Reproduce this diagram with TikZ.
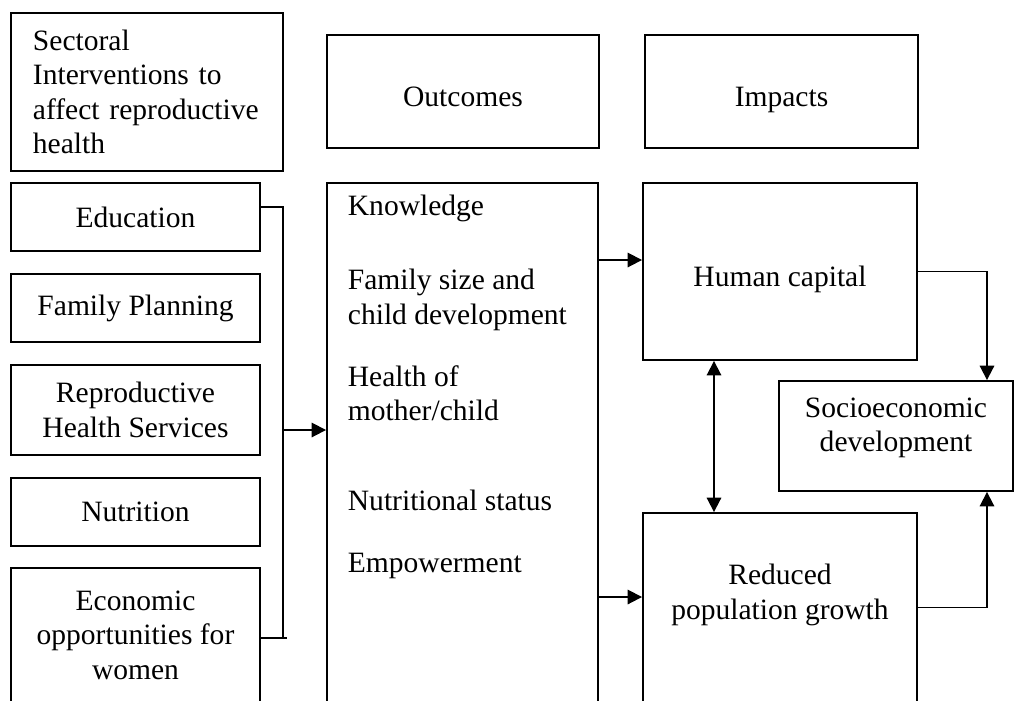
\documentclass[tikz,border=0pt]{standalone}
\usepackage{fontspec}
\setmainfont{Liberation Serif}
\usetikzlibrary{arrows.meta}
\begin{document}
\begin{tikzpicture}[x=0.025cm,y=-0.025cm,line width=1.3pt,
  box/.style={draw,inner sep=0pt,align=center},
  lbl/.style={anchor=west,inner sep=0pt,align=left},
  >={Triangle[length=0.36cm,width=0.36cm]}]
\fontsize{21}{24.5}\selectfont
\useasboundingbox (0,0) rectangle (1015,700);

% column heads
\node[box,minimum width=6.8cm,minimum height=3.95cm,text width=5.7cm,align=left] (sect) at (147,92) {Sectoral\\Interventions to\\affect reproductive\\health};
\node[box,minimum width=6.8cm,minimum height=2.825cm,text height=1.2em,text depth=0.2em] (outc) at (463,91.5) {Outcomes};
\node[box,minimum width=6.825cm,minimum height=2.825cm,text height=1.2em,text depth=0.2em] (imp) at (781.5,91.5) {Impacts};

% interventions
\node[box,minimum width=6.225cm,minimum height=1.7cm] (educ) at (135.5,217) {Education};
\node[box,minimum width=6.225cm,minimum height=1.7cm] (fp) at (135.5,308) {Family Planning};
\node[box,minimum width=6.225cm,minimum height=2.25cm] (rhs) at (135.5,410) {Reproductive\\Health Services};
\node[box,minimum width=6.225cm,minimum height=1.7cm] (nut) at (135.5,512) {Nutrition};
\node[box,minimum width=6.225cm,minimum height=3.35cm] (eco) at (135.5,635) {Economic\\opportunities for\\women};

% outcomes
\node[box,minimum width=6.775cm,minimum height=12.975cm] (outbox) at (462.5,442.5) {};
\node[lbl] (know) at (347,208) {Knowledge};
\node[lbl] (fsize) at (347,300) {Family size and\\child development};
\node[lbl] (health) at (347,393) {Health of\\mother/child};
\node[lbl] (nstat) at (347,500) {Nutritional status};
\node[lbl] (empow) at (347,566) {Empowerment};

% impacts
\node[box,minimum width=6.85cm,minimum height=4.425cm,text height=1.2em,text depth=0.2em] (hc) at (780,271.5) {Human capital};
\node[box,minimum width=6.85cm,minimum height=4.725cm] (rpg) at (780,607.5) {};
\node[align=center] (rpgtxt) at (780,595) {Reduced\\population growth};
\node[box,minimum width=5.85cm,minimum height=2.75cm] (socio) at (896,436) {};
\node[align=center] (sociotxt) at (896,428) {Socioeconomic\\development};

% connectors
\coordinate (bustop) at (283,207);
\coordinate (busmid) at (283,430);
\coordinate (busbot) at (283,638);
\coordinate (busend) at (287,638);
\coordinate (hcin) at (620,260);
\coordinate (rpgin) at (620,597);
\coordinate (sdx) at (987,0);
\coordinate (dbl) at (714,0);

\draw (educ.east |- bustop) -- (bustop) -- (busbot);
\draw (eco.east |- busend) -- (busend);
\draw[->] (busmid) -- (outbox.west |- busmid);
\draw[->] (outbox.east |- hcin) -- (hc.west |- hcin);
\draw[->] (outbox.east |- rpgin) -- (rpg.west |- rpgin);
\draw[<->] (hc.south -| dbl) -- (rpg.north -| dbl);
\draw[->] (hc.east) -| (socio.north -| sdx);
\draw[->] (rpg.east) -| (socio.south -| sdx);
\end{tikzpicture}
\end{document}
